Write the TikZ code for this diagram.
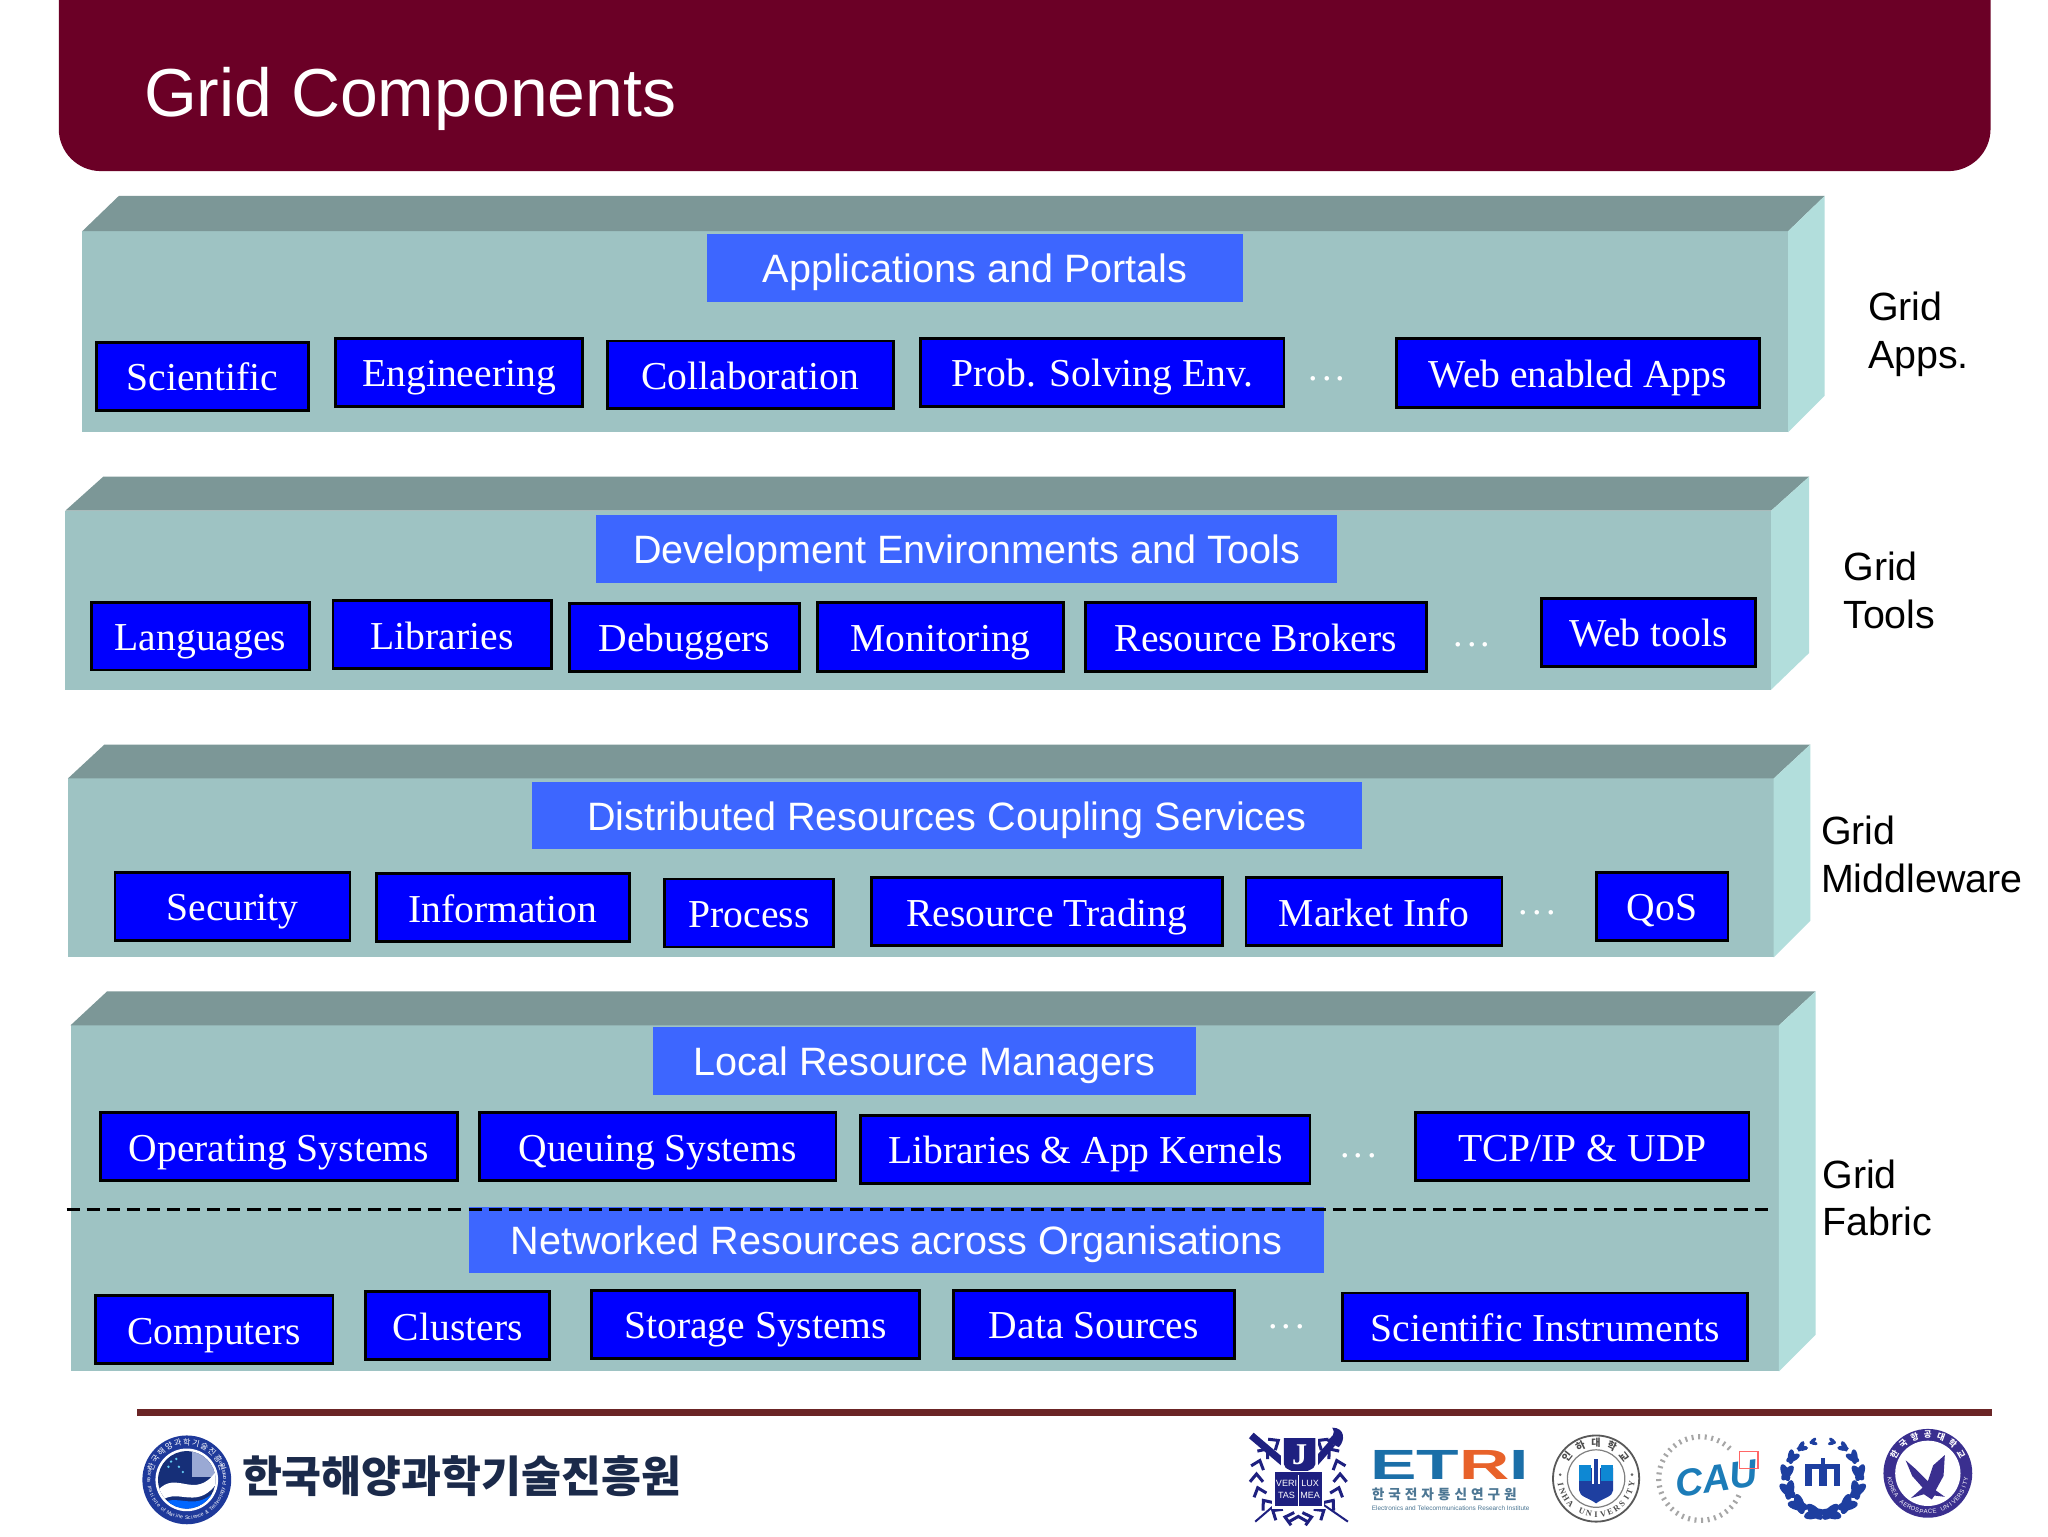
\documentclass[tikz,border=0pt]{standalone}
\usepackage{fontspec}
\setmainfont{Liberation Serif}
\setsansfont{Liberation Sans}
\newfontfamily\krfont{Noto Sans CJK KR}
\definecolor{hdr}{HTML}{6B0026}
\definecolor{rulec}{HTML}{6B2526}
\definecolor{pfront}{HTML}{9EC3C3}
\definecolor{ptop}{HTML}{7C9797}
\definecolor{pside}{HTML}{B2DEDC}
\definecolor{lblue}{HTML}{3D66FF}
\definecolor{navy}{HTML}{1E2080}
\definecolor{royal}{HTML}{1E3FA0}
\definecolor{purp}{HTML}{3A2F8F}
\definecolor{krc}{HTML}{1B2A4A}
\definecolor{etrib}{HTML}{1B6FA8}
\definecolor{etrio}{HTML}{E8622A}
\definecolor{caub}{HTML}{1C7CB8}
\tikzset{
  compbox/.style={draw=black,line width=1.4pt,fill=blue,text=white,inner sep=0pt,text height=18.3pt,text depth=4pt,font=\rmfamily\fontsize{19.7}{22}\selectfont},
  headbox/.style={fill=lblue,text=white,inner sep=0pt,text height=18.6pt,text depth=4pt,font=\sffamily\fontsize{19.7}{22}\selectfont},
  sidelabel/.style={anchor=west,align=left,inner sep=0pt,font=\sffamily\fontsize{19.6}{23.6}\selectfont},
  ellip/.style={inner sep=0pt,text=white,font=\rmfamily\fontsize{19}{22}\selectfont},
  arcchar/.style={inner sep=0pt},
}
\newcommand{\dotsmark}{.\kern2pt.\kern2pt.}
% \bx style name x1 y1 x2 y2 text
\newcommand{\bx}[7]{%
  \pgfmathsetmacro{\bw}{(#5-#3)*0.65}%
  \pgfmathsetmacro{\bh}{(#6-#4)*0.65}%
  \node[#1,minimum width=\bw pt,minimum height=\bh pt] (#2) at ({(#3+#5)/2},{(#4+#6)/2}) {#7};}
% \panel x1 x2 ytop ybot backtop backright sidebottom
\newcommand{\panel}[7]{%
  \fill[pfront] (#1,#3) rectangle (#2,#4);
  \fill[ptop] (#1,#3) -- ({#1+#6-#2},#5) -- (#6,#5) -- (#2,#3) -- cycle;
  \fill[pside] (#2,#3) -- (#6,#5) -- (#6,#7) -- (#2,#4) -- cycle;}
% letters round a circle: prefix radius start step style list
\newcommand{\toparc}[6]{%
  \foreach \c [count=\i] in {#6} {%
    \pgfmathsetmacro{\ang}{#3+(\i-1)*(#4)}%
    \node[arcchar,rotate=-\ang,#5] (#1\i) at ({(#2)*sin(\ang)},{-(#2)*cos(\ang)}) {\c};}}
\newcommand{\botarc}[6]{%
  \foreach \c [count=\i] in {#6} {%
    \pgfmathsetmacro{\ang}{#3+(\i-1)*(#4)}%
    \node[arcchar,rotate=\ang,#5] (#1\i) at ({(#2)*sin(\ang)},{(#2)*cos(\ang)}) {\c};}}
\begin{document}
\begin{tikzpicture}[x=0.65pt,y=-0.65pt]
\useasboundingbox (0,0) rectangle (1568,1176);
\fill[white] (0,0) rectangle (1568,1176);
\begin{scope}
\clip (0,0) rectangle (1568,1176);
\fill[hdr,rounded corners=21pt] (45,-60) rectangle (1524,131);
\end{scope}
\node[anchor=west,inner sep=0pt,text=white,font=\sffamily\fontsize{33.8}{40}\selectfont] (title) at (110,76) {Grid Components};

\panel{63}{1369}{177}{331}{150}{1397}{303}
\panel{50}{1356}{391}{528}{365}{1385}{500}
\panel{52}{1358}{596}{733}{570}{1386}{705}
\panel{54}{1362}{785}{1050}{759}{1390}{1022}

\bx{headbox}{hA}{541}{179}{952}{231}{Applications and Portals}
\bx{compbox}{a1}{74}{262}{236}{314}{Scientific}
\bx{compbox}{a2}{257}{259}{446}{311}{Engineering}
\bx{compbox}{a3}{465}{261}{684}{313}{Collaboration}
\bx{compbox}{a4}{705}{259}{983}{311}{Prob. Solving Env.}
\node[ellip] (ae) at (1016,290) {\dotsmark};
\bx{compbox}{a5}{1069}{259}{1347}{312}{Web enabled Apps}

\bx{headbox}{hB}{456}{394}{1024}{446}{Development Environments and Tools}
\bx{compbox}{b1}{70}{461}{237}{513}{Languages}
\bx{compbox}{b2}{255}{460}{422}{512}{Libraries}
\bx{compbox}{b3}{436}{462}{612}{514}{Debuggers}
\bx{compbox}{b4}{626}{461}{814}{514}{Monitoring}
\bx{compbox}{b5}{831}{461}{1092}{514}{Resource Brokers}
\node[ellip] (be) at (1127,494) {\dotsmark};
\bx{compbox}{b6}{1180}{458}{1344}{510}{Web tools}

\bx{headbox}{hC}{407}{599}{1043}{650}{Distributed Resources Coupling Services}
\bx{compbox}{c1}{88}{668}{268}{720}{Security}
\bx{compbox}{c2}{288}{669}{482}{721}{Information}
\bx{compbox}{c3}{509}{673}{638}{725}{Process}
\bx{compbox}{c4}{667}{672}{936}{724}{Resource Trading}
\bx{compbox}{c5}{954}{672}{1150}{724}{Market Info}
\node[ellip] (ce) at (1177,699) {\dotsmark};
\bx{compbox}{c6}{1222}{668}{1323}{720}{QoS}

\bx{headbox}{hD}{500}{786}{916}{838}{Local Resource Managers}
\bx{compbox}{d1}{77}{852}{350}{904}{Operating Systems}
\bx{compbox}{d2}{367}{852}{640}{904}{Queuing Systems}
\bx{compbox}{d3}{659}{854}{1003}{906}{Libraries \& App Kernels}
\node[ellip] (de) at (1040,885) {\dotsmark};
\bx{compbox}{d4}{1084}{852}{1339}{904}{TCP/IP \& UDP}

\bx{headbox}{hE}{359}{924}{1014}{975}{Networked Resources across Organisations}
\coordinate (dashL) at (51,926);
\coordinate (dashR) at (1356,926);
\draw[black,line width=1.3pt,dash pattern=on 6.5pt off 3.5pt] (dashL) -- (dashR);
\bx{compbox}{e1}{73}{992}{255}{1044}{Computers}
\bx{compbox}{e2}{280}{989}{421}{1041}{Clusters}
\bx{compbox}{e3}{453}{988}{704}{1040}{Storage Systems}
\bx{compbox}{e4}{730}{988}{945}{1040}{Data Sources}
\node[ellip] (ee) at (985,1016) {\dotsmark};
\bx{compbox}{e5}{1028}{990}{1338}{1042}{Scientific Instruments}

\node[sidelabel] (l1) at (1430,256) {Grid\\Apps.};
\node[sidelabel] (l2) at (1411,452) {Grid\\Tools};
\node[sidelabel] (l3) at (1394,654) {Grid\\Middleware};
\node[sidelabel] (l4) at (1395,917) {Grid\\Fabric};

\fill[rulec] (105,1079) rectangle (1525,1084);

% institute logo
\begin{scope}[shift={(143,1133)}]
  \fill[royal!80!navy] (0,0) circle (34);
  \fill[white] (0,0) circle (24);
  \begin{scope}
    \clip (0,0) circle (22);
    \fill[royal!75!black] (-22,-22) rectangle (22,22);
    \fill[royal!45!white] (4,-22) rectangle (22,-2);
    \fill[white] (-22,8) .. controls (-8,-8) and (6,16) .. (22,-6) -- (22,4) .. controls (6,24) and (-8,4) .. (-22,18) -- cycle;
    \fill[blue!60!cyan] (-22,20) .. controls (-8,8) and (6,26) .. (22,8) -- (22,24) -- (-22,24) -- cycle;
    \foreach \p in {(-12,-14),(-8,-16),(-6,-10),(-3,-6),(-14,-10)} {\fill[cyan!60!white] \p circle (1);}
  \end{scope}
  \toparc{ik}{29}{-70}{14}{text=white,font=\krfont\fontsize{4}{4}\selectfont}{한,국,해,양,과,학,기,술,진,흥,원}
  \botarc{ie}{29}{-104}{4}{text=white,font=\sffamily\fontsize{2.6}{3}\selectfont}{K,o,r,e,a,~,I,n,s,t,i,t,u,t,e,~,o,f,~,M,a,r,i,n,e,~,S,c,i,e,n,c,e,~,\&,~,T,e,c,h,n,o,l,o,g,y,~,P,r,o,m,o,t,i,o,n}
\end{scope}
\node[anchor=west,inner sep=0pt,text=krc,font=\krfont\bfseries\fontsize{21.6}{24}\selectfont] (kr) at (185,1130) {한국해양과학기술진흥원};

% Seoul National University seal
\begin{scope}[shift={(994,1131)}]
  \foreach \a in {14,33,...,155} {
    \draw[navy,line width=1.5pt,rotate=\a] (-3.5,27) -- (2.5,32) -- (-3.5,37);
    \draw[navy,line width=1.5pt,rotate=-\a] (3.5,27) -- (-2.5,32) -- (3.5,37);
  }
  \draw[navy,line width=1.5pt] (-7,34) -- (0,30) -- (7,34);
  \draw[navy,line width=1pt] (12,16) -- (38,34);
  \draw[navy,line width=1pt] (-12,16) -- (-33,34);
  \draw[navy,line width=3.6pt] (-36,-32) -- (-10,-10);
  \draw[navy,line width=3.6pt] (26,-26) -- (12,-10);
  \fill[navy] (26,-38) .. controls (36,-38) and (36,-28) .. (31,-23) -- (21,-28) .. controls (26,-30) and (29,-34) .. (26,-38) -- cycle;
  \fill[white] (-13,-32) rectangle (15,-2);
  \fill[navy] (-11,-30) -- (13,-30) -- (13,-10) .. controls (13,-6) and (6,-5) .. (1,-2) .. controls (-4,-5) and (-11,-6) .. (-11,-10) -- cycle;
  \node[inner sep=0pt,text=white,font=\rmfamily\bfseries\fontsize{15}{15}\selectfont] (snuj) at (1,-17) {J};
  \fill[white] (-20,-5) rectangle (20,24);
  \fill[navy] (-18,-4) rectangle (18,22);
  \draw[white,line width=0.5pt] (0,-2) -- (0,22);
  \node[inner sep=0pt,text=white,align=center,font=\sffamily\fontsize{4.5}{6}\selectfont] (snuL) at (-9,9) {VERI\\TAS};
  \node[inner sep=0pt,text=white,align=center,font=\sffamily\fontsize{4.5}{6}\selectfont] (snuR) at (9,9) {LUX\\MEA};
\end{scope}

% ETRI
\node[anchor=west,inner sep=0pt,font=\sffamily\bfseries\fontsize{21}{21}\selectfont,text=etrib] (etri) at (1049,1121.5) {\scalebox{1.65}[1]{ET\textcolor{etrio}{R}I}};
\node[anchor=west,inner sep=0pt,font=\krfont\bfseries\fontsize{6.8}{7}\selectfont,text=etrib!50!gray] (etrik) at (1050,1144) {\addfontfeature{LetterSpace=29}한국전자통신연구원};
\node[anchor=west,inner sep=0pt,font=\sffamily\fontsize{3.2}{4}\selectfont,text=etrib!50!gray] (etrie) at (1050,1155) {Electronics and Telecommunications Research Institute};

% Inha University
\begin{scope}[shift={(1222,1132)}]
  \draw[black!65,line width=0.9pt] (0,0) circle (33);
  \draw[black!50,line width=0.6pt] (0,0) circle (22);
  \fill[royal] (-13,-8) -- (13,-8) -- (13,9) .. controls (13,14) and (5,15) .. (0,19) .. controls (-5,15) and (-13,14) .. (-13,9) -- cycle;
  \fill[cyan!70!blue] (-13,-10) rectangle (-4,2);
  \fill[cyan!70!blue] (4,-10) rectangle (13,2);
  \fill[white] (-3,-15) rectangle (3,4);
  \fill[royal] (-1.5,-15) rectangle (1.5,4);
  \fill[black!60] (-27.5,-3) circle (1.1);
  \fill[black!60] (27.5,-3) circle (1.1);
  \toparc{ih}{27.5}{-52}{26}{text=black!70,font=\krfont\bfseries\fontsize{5}{5}\selectfont}{인,하,대,학,교}
  \botarc{iu}{27.5}{-80.5}{11.5}{text=black!70,font=\rmfamily\bfseries\fontsize{4.2}{5}\selectfont}{I,N,H,A,~,U,N,I,V,E,R,S,I,T,Y}
\end{scope}

% Chung-Ang University
\begin{scope}[shift={(1302,1132)}]
  \foreach \a in {115,124,...,405} {\draw[black!35,line width=1pt] ({30*sin(\a)},{-30*cos(\a)}) -- ({34*sin(\a)},{-34*cos(\a)});}
  \node[inner sep=0pt,rotate=8,text=caub,font=\sffamily\bfseries\itshape\fontsize{19}{19}\selectfont] (cau) at (12,0) {CAU};
  \draw[red!60,line width=0.6pt] (30,-21) rectangle (44,-8);
\end{scope}

% Myongji University
\begin{scope}[shift={(1395.5,1131)}]
  \foreach \a/\s in {14/1,42/1,70/0.95,98/0.85,124/0.7,146/0.55,166/0.4} {
    \fill[royal,rotate=\a,shift={(0,28)},rotate=30] (0,-1) ellipse ({8*\s} and {3.6*\s});
    \fill[royal,rotate=\a,shift={(0,28)},rotate=-30] (0,1) ellipse ({8*\s} and {3.6*\s});
    \fill[royal,rotate=-\a,shift={(0,28)},rotate=30] (0,1) ellipse ({8*\s} and {3.6*\s});
    \fill[royal,rotate=-\a,shift={(0,28)},rotate=-30] (0,-1) ellipse ({8*\s} and {3.6*\s});
  }
  \fill[royal] (-13.5,-10) rectangle (13.5,-6);
  \fill[royal] (-13.5,-6) rectangle (-8.5,7);
  \fill[royal] (-3,-6) rectangle (3,7);
  \fill[royal] (8.5,-6) rectangle (13.5,7);
  \fill[royal] (-1.5,-15) rectangle (1.5,-10);
\end{scope}

% Korea Aerospace University
\begin{scope}[shift={(1476,1128)}]
  \fill[purp] (0,0) circle (34);
  \fill[white] (0,0) circle (25);
  \fill[purp] (-17,-10) -- (-9,-3) -- (-2,4) -- (0,6) -- (4,-6) -- (13,-14) -- (12,2) -- (6,13) -- (13,18) -- (5,17) -- (3,20) -- (-3,16) -- (-13,19) -- (-4,11) -- (-12,2) -- cycle;
  \toparc{ak}{29.5}{-60}{20}{text=white,font=\krfont\bfseries\fontsize{4.2}{4.2}\selectfont}{한,국,항,공,대,학,교}
  \botarc{ae}{29.5}{-81}{6.5}{text=white,font=\sffamily\fontsize{3}{3}\selectfont}{K,O,R,E,A,~,A,E,R,O,S,P,A,C,E,~,U,N,I,V,E,R,S,I,T,Y}
\end{scope}
\end{tikzpicture}
\end{document}
